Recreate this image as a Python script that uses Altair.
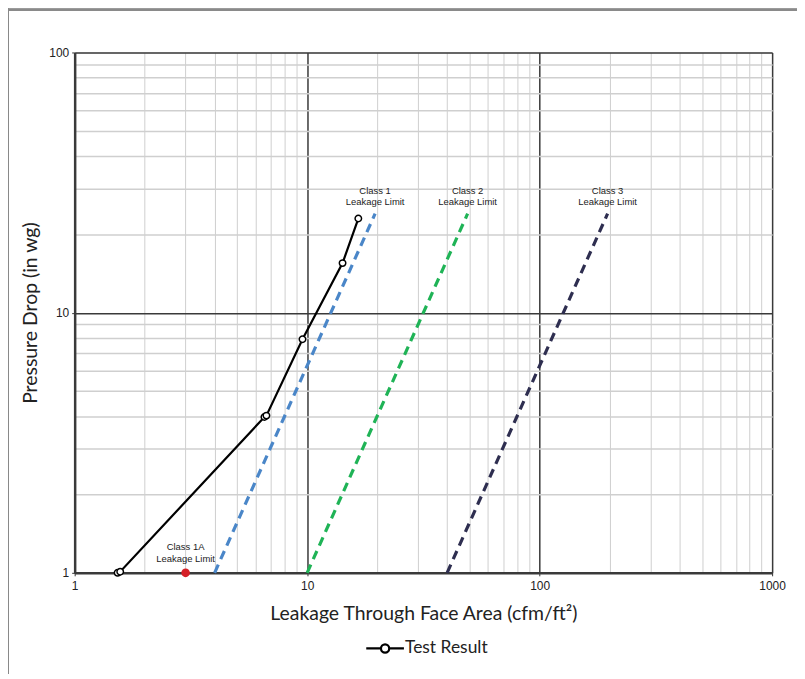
import altair as alt
import pandas as pd

# Test result (leakage cfm/ft2 vs pressure drop in wg)
test_x = [1.53, 1.57, 6.55, 6.68, 9.55, 14.2, 16.6]
test_y = [1.0, 1.01, 3.97, 4.02, 7.9, 15.5, 23.0]

# Leakage limit lines (two end points each)
limit_class = ["Class 1", "Class 1", "Class 2", "Class 2", "Class 3", "Class 3"]
limit_x = [4, 19.6, 10, 49, 40, 196]
limit_y = [1, 24, 1, 24, 1, 24]
limit_colors = ["#4a86c8", "#1fb356", "#2e2e50"]

# Class 1A point
c1a_x = [3]
c1a_y = [1]

# Label positions
lab_text = [["Class 1", "Leakage Limit"], ["Class 2", "Leakage Limit"],
            ["Class 3", "Leakage Limit"], ["Class 1A", "Leakage Limit"]]
lab_x = [19.6, 49, 196, 3]
lab_y = [28.2, 28.2, 28.2, 1.2]

x_ticks = [m * d for d in [1, 10, 100] for m in range(1, 10)] + [1000]
y_ticks = [m * d for d in [1, 10] for m in range(1, 10)] + [100]

test_df = pd.DataFrame({"x": test_x, "y": test_y, "s": ["Test Result"] * len(test_x)})
lim_df = pd.DataFrame({"x": limit_x, "y": limit_y, "c": limit_class})
c1a_df = pd.DataFrame({"x": c1a_x, "y": c1a_y})
lab_df = pd.DataFrame({"x": lab_x, "y": lab_y, "t": lab_text})

is_major = "indexof([1,10,100,1000], datum.value) >= 0"

xs = alt.Scale(type="log", domain=[1, 1000])
ys = alt.Scale(type="log", domain=[1, 100])

x_axis = alt.Axis(
    values=x_ticks, format="d",
    labelExpr="indexof(['1','10','100','1000'], datum.label) >= 0 ? datum.label : ''",
    title="Leakage Through Face Area (cfm/ft²)",
    grid=True,
    gridColor={"condition": {"test": is_major, "value": "#3a3a3a"}, "value": "#cfcfcf"},
    gridWidth={"condition": {"test": is_major, "value": 1.5}, "value": 1},
    tickColor={"condition": {"test": is_major, "value": "#333"}, "value": "transparent"},
    tickSize=3, domainColor="#3a3a3a", domainWidth=2.5,
    labelFont="Liberation Sans", labelFontSize=12, labelColor="#222",
    labelPadding=5, labelFlush=False,
    titleFont="Lato", titleFontSize=19.5, titleFontWeight="normal", titleColor="#222",
    titlePadding=13,
)
y_axis = alt.Axis(
    values=y_ticks, format="d",
    labelExpr="indexof(['1','10','100'], datum.label) >= 0 ? datum.label : ''",
    title="Pressure Drop (in wg)",
    grid=True,
    gridColor={"condition": {"test": is_major, "value": "#3a3a3a"}, "value": "#cfcfcf"},
    gridWidth={"condition": {"test": is_major, "value": 1.5}, "value": 1.5},
    tickColor={"condition": {"test": is_major, "value": "#333"}, "value": "transparent"},
    tickSize=3, domainColor="#3a3a3a", domainWidth=2.5,
    labelFont="Liberation Sans", labelFontSize=12, labelColor="#222",
    labelPadding=3, labelFlush=False,
    titleFont="Lato", titleFontSize=19.5, titleFontWeight="normal", titleColor="#222",
    titlePadding=8,
)

limits = alt.Chart(lim_df).mark_line(strokeWidth=3.2, strokeDash=[9, 6]).encode(
    x=alt.X("x:Q", scale=xs, axis=x_axis),
    y=alt.Y("y:Q", scale=ys, axis=y_axis),
    color=alt.Color("c:N", scale=alt.Scale(domain=["Class 1", "Class 2", "Class 3"],
                                           range=limit_colors), legend=None),
    detail="c:N",
)

test_line = alt.Chart(test_df).mark_line(color="black", strokeWidth=2.2).encode(
    x=alt.X("x:Q", scale=xs), y=alt.Y("y:Q", scale=ys),
    stroke=alt.Stroke("s:N", scale=alt.Scale(range=["black"]),
                      legend=alt.Legend(
                          title=None, orient="none", legendX=299, legendY=586,
                          symbolType="M-1.6,0L-0.35,0M0.35,0L1.6,0M-0.35,0A0.35,0.35 0 1,0 0.35,0A0.35,0.35 0 1,0 -0.35,0",
                          symbolSize=560, symbolStrokeWidth=2.2, symbolFillColor="white",
                          labelFont="Lato", labelFontSize=17.5, labelColor="#222",
                          symbolOffset=0, labelOffset=7)),
)
test_pts = alt.Chart(test_df).mark_point(
    filled=True, fill="white", stroke="black", strokeWidth=1.5, size=42, opacity=1
).encode(x="x:Q", y="y:Q")

c1a = alt.Chart(c1a_df).mark_circle(color="#d62027", size=75, opacity=1).encode(
    x="x:Q", y="y:Q")

labels = alt.Chart(lab_df).mark_text(
    font="Liberation Sans", fontSize=9.5, color="#222", lineHeight=12,
    baseline="bottom", align="center"
).encode(x="x:Q", y="y:Q", text="t")

frame_top = alt.Chart(test_df).mark_rule(color="#8a8a8a", strokeWidth=2, clip=False).encode(
    x=alt.value(-68), x2=alt.value(760), y=alt.value(-43))
frame_left = alt.Chart(test_df).mark_rule(color="#8a8a8a", strokeWidth=2, clip=False).encode(
    x=alt.value(-67), y=alt.value(-44), y2=alt.value(640))

chart = alt.layer(limits, test_line, test_pts, c1a, labels, frame_top, frame_left).properties(
    width=701, height=523,
    autosize=alt.AutoSizeParams(type="none"),
    padding={"left": 67, "top": 43, "right": 25, "bottom": 100},
).configure_view(stroke="#3a3a3a", strokeWidth=2).configure(background="white")

chart.save("out.html", embed_options={"renderer": "svg", "actions": False})
